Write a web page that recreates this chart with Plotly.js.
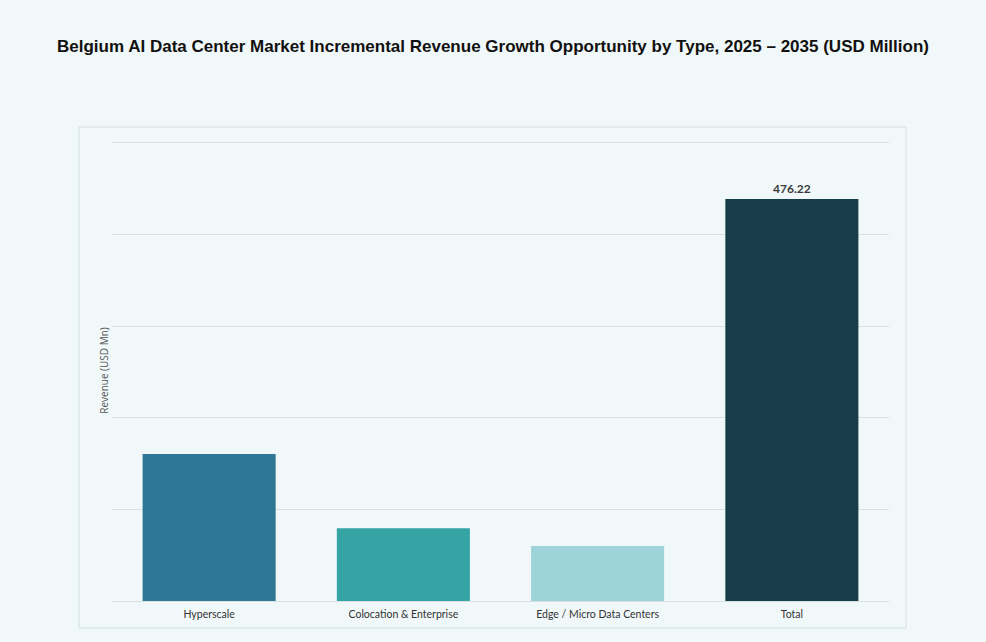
<!DOCTYPE html>
<html>
<head>
<meta charset="utf-8">
<script src="https://cdn.plot.ly/plotly-3.0.1.min.js"></script>
<style>
  html, body { margin: 0; padding: 0; background: #f1f8f9; }
  #chart { width: 986px; height: 642px; }
</style>
</head>
<body>
<div id="chart"></div>
<script>
var categories = ['Hyperscale', 'Colocation & Enterprise', 'Edge / Micro Data Centers', 'Total'];
var revenue = [174.1, 86.2, 65.2, 476.22];
var barColors = ['#2e7896', '#35a4a4', '#9fd3da', '#173d4a'];
// only the total carries a label in the source
var labels = ['', '', '', '476.22'];
var gridVals = [0, 108.5, 217, 325.5, 434, 542.5];

var trace = {
  x: categories,
  y: revenue,
  type: 'bar',
  marker: { color: barColors },
  text: labels,
  textposition: 'outside',
  cliponaxis: false,
  textfont: { family: 'Lato, Arial, sans-serif', size: 12, color: '#3a3a3a', weight: 'bold' },
  hoverinfo: 'x+y'
};

var layout = {
  width: 986,
  height: 642,
  paper_bgcolor: '#f1f8f9',
  plot_bgcolor: '#f1f8f9',
  margin: { l: 112, r: 97, t: 140, b: 41 },
  title: {
    text: '<b>Belgium AI Data Center Market Incremental Revenue Growth Opportunity by Type, 2025 \u2013 2035 (USD Million)</b>',
    font: { family: 'Liberation Sans, Arial, sans-serif', size: 17, color: '#111' },
    x: 0.5,
    xanchor: 'center',
    y: 0.928,
    yanchor: 'middle'
  },
  bargap: 0.315,
  showlegend: false,
  xaxis: {
    showline: false,
    ticks: '',
    ticklabelstandoff: 5,
    tickfont: { family: 'Lato, Arial, sans-serif', size: 10.5, color: '#333' },
    fixedrange: true
  },
  yaxis: {
    range: [0, 546],
    tickmode: 'array',
    tickvals: gridVals,
    showticklabels: false,
    gridcolor: '#d9e0e1',
    gridwidth: 1,
    zeroline: true,
    zerolinecolor: '#d9e0e1',
    title: {
      text: 'Revenue (USD Mn)',
      font: { family: 'Open Sans, Arial, sans-serif', size: 10, color: '#555' },
      standoff: 0
    },
    fixedrange: true
  },
  shapes: [{
    type: 'rect',
    xref: 'paper',
    yref: 'paper',
    x0: -0.0425,
    x1: 1.0219,
    y0: -0.0586,
    y1: 1.0282,
    line: { color: '#d6dfe0', width: 1 },
    fillcolor: 'rgba(0,0,0,0)',
    layer: 'below'
  }]
};

Plotly.newPlot('chart', [trace], layout, { displayModeBar: false });
</script>
</body>
</html>
